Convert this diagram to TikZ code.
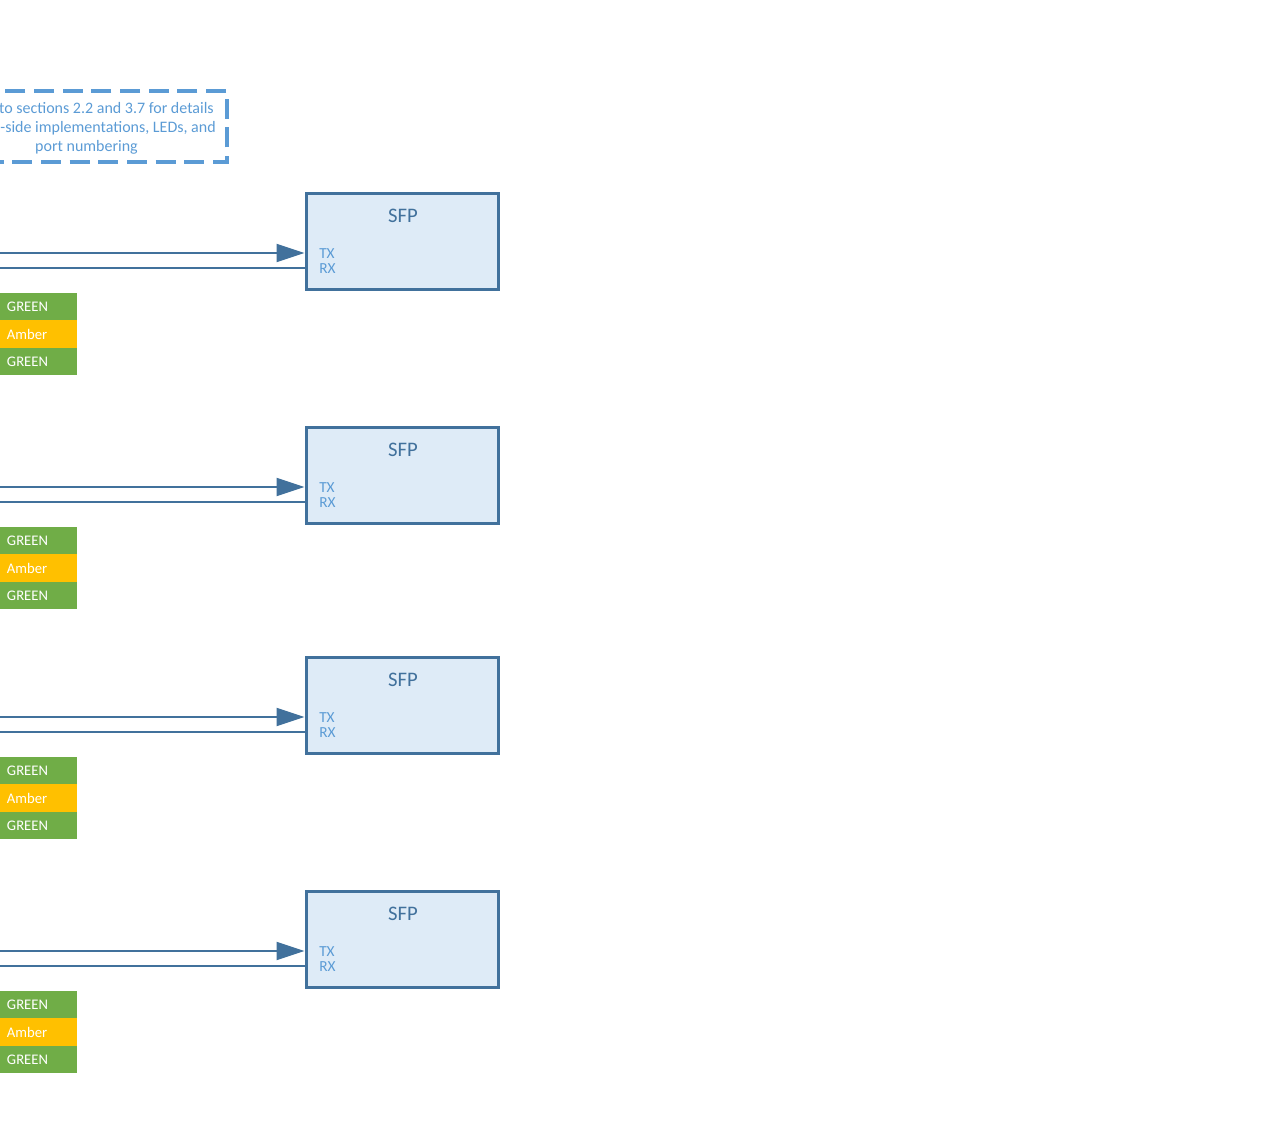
\documentclass[tikz,border=0pt]{standalone}
\usepackage{fontspec}
\setmainfont{Carlito}
\usetikzlibrary{arrows.meta,positioning}

\definecolor{sfpline}{RGB}{65,113,156}
\definecolor{sfpfill}{RGB}{222,235,247}
\definecolor{sfptext}{RGB}{91,155,213}
\definecolor{ledgreen}{RGB}{112,173,71}
\definecolor{ledamber}{RGB}{255,192,0}

\tikzset{
  sfpbox/.style={draw=sfpline, fill=sfpfill, line width=2.25pt,
    minimum width=144pt, minimum height=72pt, inner sep=0pt},
  pinlabel/.style={text=sfptext, font=\fontsize{11.5}{11.5}\selectfont, inner sep=0pt, anchor=west},
  txline/.style={draw=sfpline, line width=1.5pt, -{Triangle[length=21pt,width=13.5pt]}},
  rxline/.style={draw=sfpline, line width=1.5pt},
  ledbox/.style={minimum width=57.75pt, minimum height=20.6pt, inner xsep=5.25pt,
    inner ysep=0pt, outer sep=0pt, text=white, font=\fontsize{11}{11}\selectfont,
    text width=47.25pt, align=left},
  notetext/.style={text=sfptext, font=\fontsize{12}{12}\selectfont, inner sep=0pt}
}

\begin{document}
\begin{tikzpicture}[x=0.75pt, y=-0.75pt]
  \useasboundingbox (0,0) rectangle (1287,1136);
  \clip (0,0) rectangle (1287,1136);

  % Note box
  \draw[sfptext, line width=2.6pt, dash pattern=on 15pt off 6.5pt] (-60,91) rectangle (227,162);
  \node[notetext, anchor=base east] (note1) at (214,113) {to sections 2.2 and 3.7 for details};
  \node[notetext, anchor=base east] (note2) at (216,132) {-side implementations, LEDs, and};
  \node[notetext, anchor=base] (note3) at (86.5,151) {port numbering};

  % SFP ports with links and LEDs
  \foreach \i/\dy in {1/0,2/234,3/464,4/698}{
    \node[sfpbox] (sfp\i) at (402,241+\dy) {};
    \node[text=sfpline, font=\fontsize{15.5}{15.5}\selectfont, inner sep=0pt, anchor=base]
      (sfptitle\i) at (403,222+\dy) {SFP};
    \node[pinlabel] (tx\i) at (319,254+\dy) {TX};
    \node[pinlabel] (rx\i) at (319,269+\dy) {RX};

    \coordinate (txin\i) at (-10,253+\dy);
    \coordinate (rxin\i) at (-10,268+\dy);
    \draw[txline] (txin\i) -- (txin\i -| sfp\i.west);
    \draw[rxline] (rxin\i) -- (rxin\i -| sfp\i.west);

    \node[ledbox, fill=ledgreen] (ledA\i) at (38.5,306.7+\dy) {GREEN};
    \node[ledbox, fill=ledamber, below=0pt of ledA\i] (ledB\i) {Amber};
    \node[ledbox, fill=ledgreen, below=0pt of ledB\i] (ledC\i) {GREEN};
  }
\end{tikzpicture}
\end{document}
